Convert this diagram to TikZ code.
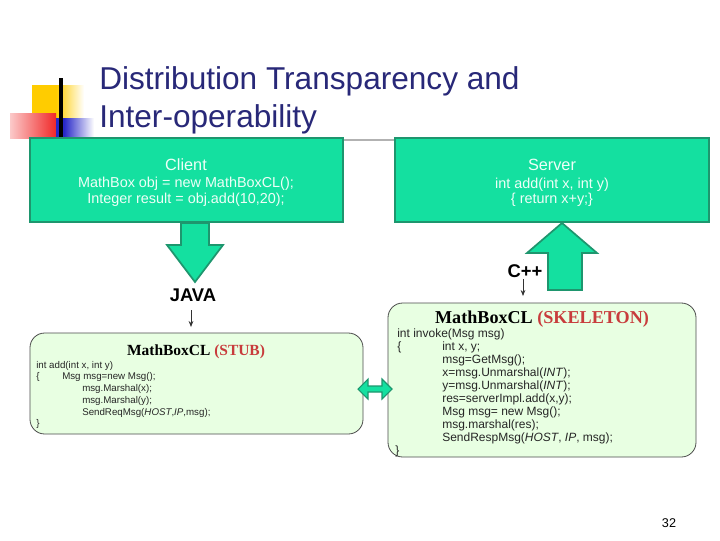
\documentclass[tikz,border=0pt]{standalone}
\usepackage{fontspec}
\setmainfont{Liberation Sans}
\newfontfamily\timesf{Liberation Serif}
\usetikzlibrary{arrows.meta,fit}
\definecolor{tealfill}{RGB}{20,224,160}
\definecolor{tealline}{RGB}{30,150,110}
\definecolor{navy}{RGB}{40,40,120}
\definecolor{palegreen}{RGB}{232,255,226}
\definecolor{stubred}{RGB}{200,60,60}
\definecolor{boxtext}{RGB}{238,255,248}
\definecolor{logoyellow}{RGB}{255,204,0}
\definecolor{logored}{RGB}{240,40,40}
\definecolor{logoblue}{RGB}{40,40,200}
\newcommand{\pxsize}[1]{\fontsize{#1}{#1}\selectfont}
\begin{document}
\begin{tikzpicture}[x=0.75pt,y=-0.75pt,
  tealbox/.style={draw=tealline,line width=2.2pt,fill=tealfill,inner sep=0pt},
  codebox/.style={draw=black!70,line width=0.6pt,fill=palegreen,rounded corners=11pt,inner sep=0pt},
  blockarrow/.style={draw=tealline,line width=1.3pt,fill=tealfill,line join=miter},
  boxhead/.style={text=boxtext,anchor=base,inner sep=0pt,font=\pxsize{12.2pt}},
  boxcode/.style={text=boxtext,anchor=base,inner sep=0pt,font=\pxsize{10.8pt}},
  stubcode/.style={anchor=base west,inner sep=0pt,text=black!85,font=\pxsize{7.3pt}},
  skelcode/.style={anchor=base west,inner sep=0pt,text=black!85,font=\pxsize{9pt}},
  langlabel/.style={anchor=base,inner sep=0pt,font=\bfseries\pxsize{13.8pt}},
  smallarrow/.style={-{Stealth[length=4.5pt,width=3.5pt]},line width=0.6pt,black!80},
  titletext/.style={anchor=base west,inner sep=0pt,text=navy,font=\pxsize{23.7pt}}]
\useasboundingbox (0,0) rectangle (720,540);
\fill[white] (0,0) rectangle (720,540);
% logo
\fill[logoyellow] (32,85) rectangle (56,118);
\shade[left color=logoyellow,right color=white] (56,85) rectangle (84,118);
\shade[left color=logored!25,right color=logored] (10,113) rectangle (56,138);
\fill[logoblue] (56,118) rectangle (64,138);
\shade[left color=logoblue,right color=white] (64,118) rectangle (94,138);
\draw[black,line width=2.3pt] (61,78) -- (61,140);
% title
\node[titletext] (title1) at (99,89) {Distribution Transparency and};
\node[titletext] (title2) at (99,127) {Inter-operability};
\draw[black!30,line width=1.5pt] (60,140) -- (702,140);
% client and server boxes
\node[tealbox,fit={(30,138) (343,222)}] (client) {};
\node[boxhead] (clienthead) at (186,170) {Client};
\node[boxcode] (clientl1) at (186,187) {MathBox obj = new MathBoxCL();};
\node[boxcode] (clientl2) at (186,203) {Integer result = obj.add(10,20);};
\node[tealbox,fit={(395,138) (709,222)}] (server) {};
\node[boxhead] (serverhead) at (552,170) {Server};
\node[boxcode] (serverl1) at (552,188) {int add(int x, int y)};
\node[boxcode] (serverl2) at (552,203) {\{ return x+y;\}};
% big arrows
\draw[blockarrow] (181,223) -- (209,223) -- (209,245) -- (223,245) -- (195,282) -- (167,245) -- (181,245) -- cycle;
\draw[blockarrow] (548,290) -- (582,290) -- (582,253) -- (597,253) -- (562,223) -- (527,253) -- (548,253) -- cycle;
% stub box
\node[codebox,fit={(30,333) (363,434)}] (stub) {};
\node[anchor=base,inner sep=0pt,font=\timesf\bfseries\pxsize{11.6pt}] (stubtitle) at (196,355) {MathBoxCL \textcolor{stubred}{(STUB)}};
\node[stubcode] (s1) at (36,368.5) {int add(int x, int y)};
\node[stubcode] (s2) at (36,379.5) {\{};
\node[stubcode] (s2b) at (62,379.5) {Msg msg=new Msg();};
\node[stubcode] (s3) at (82,391.5) {msg.Marshal(x);};
\node[stubcode] (s4) at (82,403.5) {msg.Marshal(y);};
\node[stubcode] (s5) at (82,415.5) {SendReqMsg(\textit{HOST},\textit{IP},msg);};
\node[stubcode] (s6) at (36,426.5) {\}};
% skeleton box
\node[codebox,fit={(388,303) (696,457)}] (skel) {};
\node[anchor=base,inner sep=0pt,font=\timesf\bfseries\pxsize{13.6pt}] (skeltitle) at (542,323) {MathBoxCL \textcolor{stubred}{(SKELETON)}};
\node[skelcode] (k1) at (397,337) {int invoke(Msg msg)};
\node[skelcode] (k2) at (397,350) {\{};
\node[skelcode] (k2b) at (442,350) {int x, y;};
\node[skelcode] (k3) at (442,363) {msg=GetMsg();};
\node[skelcode] (k4) at (442,376) {x=msg.Unmarshal(\textit{INT});};
\node[skelcode] (k5) at (442,389) {y=msg.Unmarshal(\textit{INT});};
\node[skelcode] (k6) at (442,402) {res=serverImpl.add(x,y);};
\node[skelcode] (k7) at (442,415) {Msg msg= new Msg();};
\node[skelcode] (k8) at (442,428) {msg.marshal(res);};
\node[skelcode] (k9) at (442,441) {SendRespMsg(\textit{HOST}, \textit{IP}, msg);};
\node[skelcode] (k10) at (395,454) {\}};
% labels and small arrows
\node[langlabel] (java) at (193,301) {JAVA};
\node[langlabel] (cpp) at (525,277) {C++};
\coordinate (javafoot) at (191,310);
\coordinate (cppfoot) at (523,279);
\draw[smallarrow] (javafoot) -- (191,327);
\draw[smallarrow] (cppfoot) -- (523,296);
% double arrow between stub and skeleton
\draw[blockarrow,line width=0.8pt] (358,389) -- (368,379) -- (368,386) -- (382,386) -- (382,379) -- (392,389) -- (382,399) -- (382,392) -- (368,392) -- (368,399) -- cycle;
% page number
\node[anchor=base,inner sep=0pt,font=\pxsize{9.5pt}] (pagenum) at (669,527) {32};
\end{tikzpicture}
\end{document}
